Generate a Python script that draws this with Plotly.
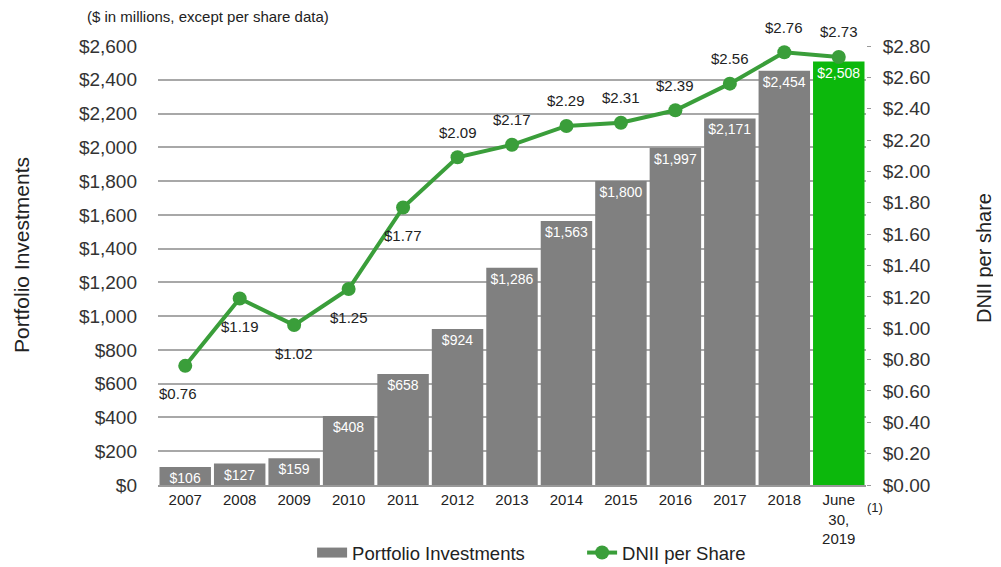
import plotly.graph_objects as go

categories = ["2007", "2008", "2009", "2010", "2011", "2012", "2013", "2014",
              "2015", "2016", "2017", "2018", "June<br>30,<br>2019"]
portfolio = [106, 127, 159, 408, 658, 924, 1286, 1563, 1800, 1997, 2171, 2454, 2508]
dnii = [0.76, 1.19, 1.02, 1.25, 1.77, 2.09, 2.17, 2.29, 2.31, 2.39, 2.56, 2.76, 2.73]
dnii_label_pos = ["below", "below", "below", "below", "below", "above", "above",
                  "above", "above", "above", "above", "above", "above"]
left_ticks = list(range(0, 2601, 200))
right_ticks = [i / 10 for i in range(0, 29, 2)]

bar_colors = ["#808080"] * (len(categories) - 1) + ["#0cb80c"]
line_color = "#3a9e3a"
text_font = "Liberation Sans, Arial, sans-serif"
dark = "#222222"

fig = go.Figure()
fig.add_trace(go.Bar(
    x=categories, y=portfolio, name="Portfolio Investments", showlegend=False,
    marker=dict(color=bar_colors, line=dict(width=0)),
    text=[f"${v:,}" for v in portfolio],
    textposition="inside", insidetextanchor="end", textangle=0,
    constraintext="none",
    textfont=dict(color="white", size=14, family=text_font),
    yaxis="y",
))
# legend swatch for bars (wide rectangle as in reference)
fig.add_trace(go.Scatter(
    x=[None], y=[None], name="Portfolio Investments", mode="lines",
    line=dict(color="#808080", width=10), yaxis="y", hoverinfo="skip",
))
fig.add_trace(go.Scatter(
    x=categories, y=dnii, name="DNII per Share", mode="lines+markers",
    line=dict(color=line_color, width=4),
    marker=dict(color=line_color, size=14),
    yaxis="y2", cliponaxis=False,
))

for i, (v, p) in enumerate(zip(dnii, dnii_label_pos)):
    fig.add_annotation(
        x=i, y=v, xref="x", yref="y2", text=f"${v:.2f}", showarrow=False,
        yshift=25 if p == "above" else -28,
        xshift=-7 if i == 0 else 0,
        font=dict(size=15, color=dark, family=text_font),
    )

fig.add_annotation(x=0.999, y=-0.052, xref="paper", yref="paper", text="(1)",
                   showarrow=False, xanchor="left", yanchor="middle",
                   font=dict(size=13, color=dark, family=text_font))
fig.add_annotation(x=-0.103, y=1.068, xref="paper", yref="paper",
                   text="($ in millions, except per share data)",
                   showarrow=False, xanchor="left", yanchor="middle",
                   font=dict(size=15, color=dark, family=text_font))
fig.add_annotation(x=-0.192, y=0.524, xref="paper", yref="paper",
                   text="Portfolio Investments", textangle=-90,
                   showarrow=False, xanchor="center", yanchor="middle",
                   font=dict(size=21, color=dark, family=text_font))
fig.add_annotation(x=1.1667, y=0.517, xref="paper", yref="paper",
                   text="DNII per share", textangle=-90,
                   showarrow=False, xanchor="center", yanchor="middle",
                   font=dict(size=20, color=dark, family=text_font))

# the page body adds an 8px offset, so the figure is sized/margined to compensate
fig.update_layout(
    width=993, height=559,
    margin=dict(l=150, r=135, t=38, b=82, autoexpand=False),
    paper_bgcolor="white", plot_bgcolor="white",
    bargap=0.055,
    font=dict(family=text_font, color=dark),
    showlegend=True,
    legend=dict(orientation="h", x=0.599, xanchor="center", y=-0.155, yanchor="middle",
                font=dict(size=18.5, color=dark), traceorder="normal",
                entrywidth=225, bgcolor="rgba(0,0,0,0)"),
    xaxis=dict(type="category", range=[-0.5, len(categories) - 0.5],
               tickfont=dict(size=15, color=dark), showline=True,
               linecolor="#999", linewidth=2, ticks="", automargin=False),
    yaxis=dict(range=[0, 2600], tickvals=left_ticks,
               ticktext=[f"${v:,}" for v in left_ticks],
               tickfont=dict(size=19, color="#333"),
               showgrid=True, gridcolor="#a8a8a8", gridwidth=2,
               zeroline=False, ticks="", ticklen=0, automargin=False,
               ticklabelstandoff=20),
    yaxis2=dict(range=[0, 2.8], tickvals=right_ticks,
                ticktext=[f"${v:.2f}" for v in right_ticks],
                overlaying="y", side="right", showgrid=False, zeroline=False,
                tickfont=dict(size=19, color="#333"), automargin=False,
                ticks="outside", ticklen=4, tickcolor="#999",
                ticklabelstandoff=8),
)

fig.write_html("out.html")
